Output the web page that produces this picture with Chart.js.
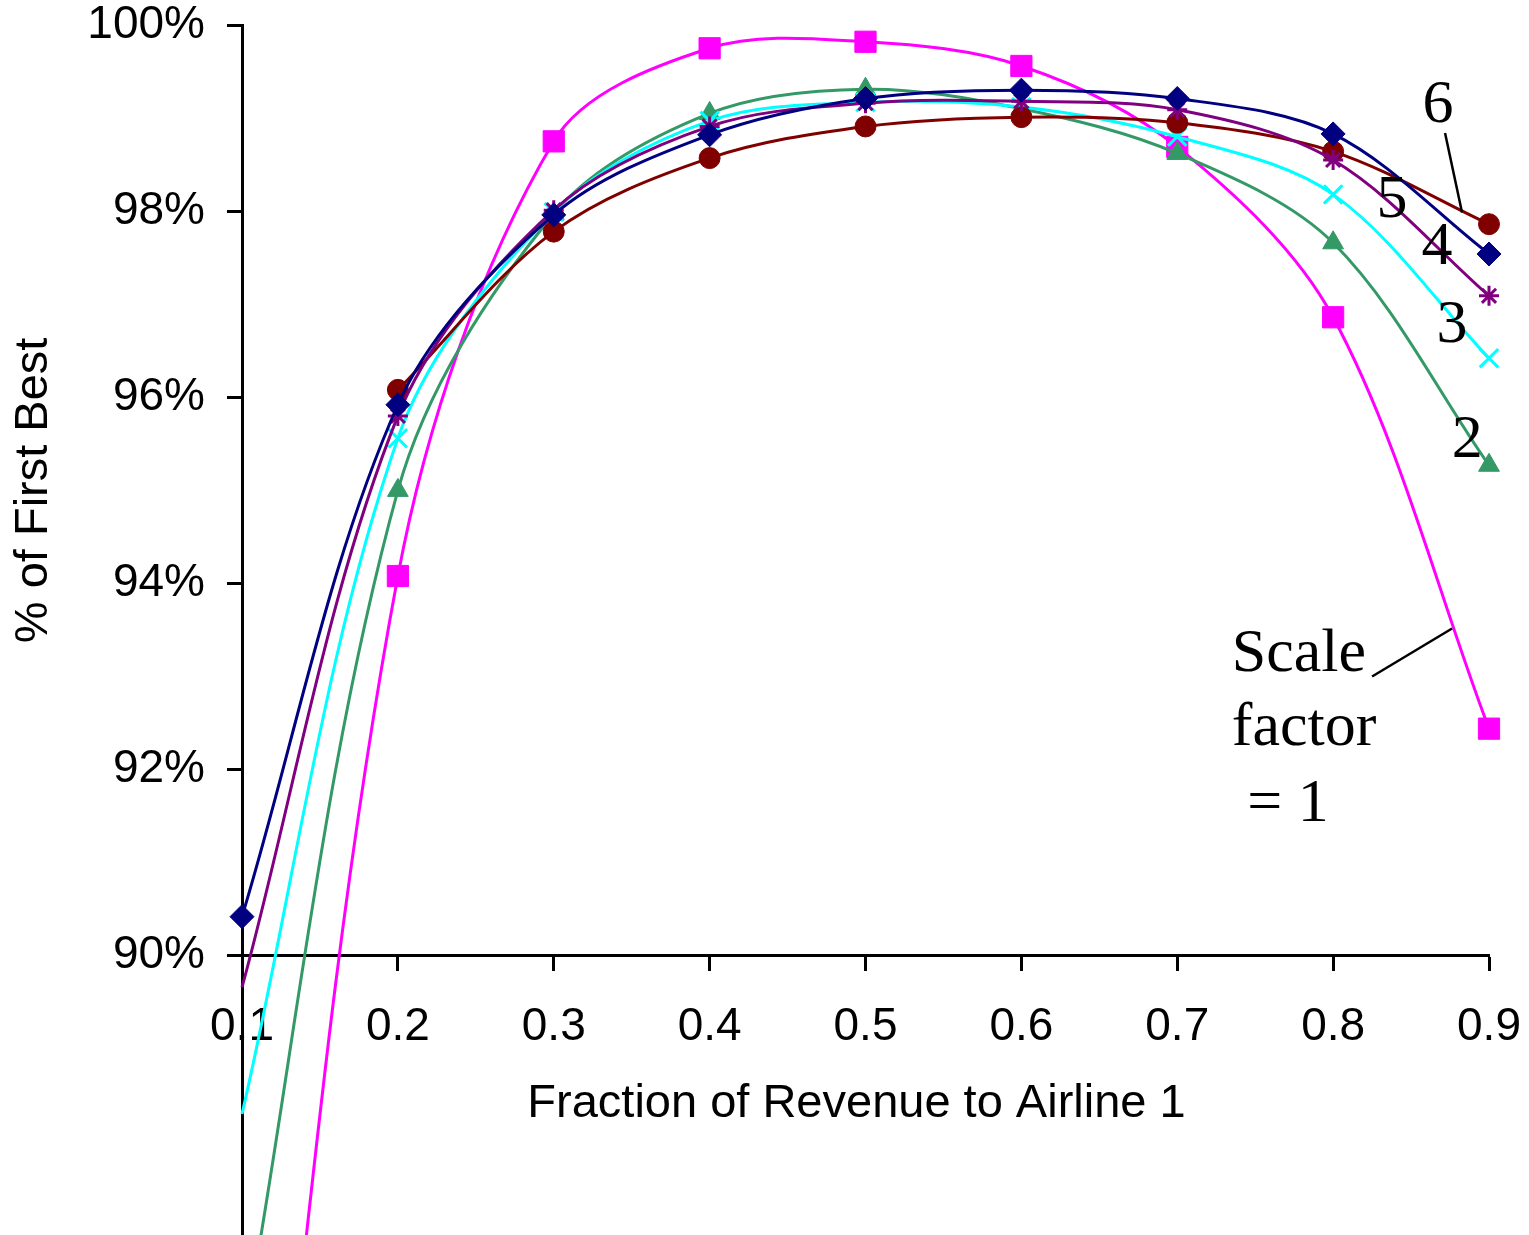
<!DOCTYPE html>
<html><head><meta charset="utf-8">
<script src="https://cdn.jsdelivr.net/npm/chart.js@4.4.1/dist/chart.umd.min.js"></script>
<style>html,body{margin:0;padding:0;background:#fff}canvas{display:block}</style>
</head><body>
<canvas id="c" width="1529" height="1235"></canvas>
<script>
// ---- data ----
const xValues = [0.1, 0.2, 0.3, 0.4, 0.5, 0.6, 0.7, 0.8, 0.9];
const scale1 = [80.8, 94.08, 98.75, 99.75, 99.82, 99.56, 98.69, 96.86, 92.44];
const scale2 = [85.8, 95.0, 97.97, 99.05, 99.31, 99.1, 98.62, 97.66, 95.27];
const scale3 = [88.3, 95.56, 97.99, 98.97, 99.17, 99.12, 98.8, 98.18, 96.42];
const scale4 = [89.66, 95.8, 98.01, 98.91, 99.16, 99.18, 99.09, 98.55, 97.09];
const scale5 = [90.42, 95.92, 97.96, 98.82, 99.21, 99.3, 99.21, 98.83, 97.54];
const scale6 = [null, 96.08, 97.78, 98.57, 98.91, 99.01, 98.95, 98.64, 97.86];
const yTickValues = [90, 92, 94, 96, 98, 100];
const xTitle = 'Fraction of Revenue to Airline 1';
const yTitle = '% of First Best';
// text annotations (data coordinates)
const seriesLabels = [
  {text: '6', x: 0.8673, y: 99.13},
  {text: '5', x: 0.8378, y: 98.11},
  {text: '4', x: 0.8667, y: 97.61},
  {text: '3', x: 0.8763, y: 96.77},
  {text: '2', x: 0.886, y: 95.53}
];
const scaleNote = [
  {text: 'Scale', x: 0.735, y: 93.06},
  {text: 'factor', x: 0.735, y: 92.26},
  {text: ' = 1', x: 0.735, y: 91.45}
];
const leaders = [
  {x1: 0.8718, y1: 98.84, x2: 0.8827, y2: 97.985},
  {x1: 0.825, y1: 93.0, x2: 0.8763, y2: 93.516}
];

const pts = arr => xValues.map((x, i) => ({x: x, y: arr[i]}));
const rad = (r, showFirst) => (c => (c.dataIndex === 0 && !showFirst) ? 0 : r);
const sans = "'Liberation Sans', Arial, sans-serif";
const serif = "'Liberation Serif', 'Times New Roman', serif";

const annotPlugin = {
  id: 'annot',
  afterDatasetsDraw(chart) {
    const {ctx, chartArea, scales: {x, y}} = chart;
    ctx.save();
    ctx.fillStyle = '#000';
    ctx.strokeStyle = '#000';
    ctx.lineWidth = 2.5;
    leaders.forEach(l => {
      ctx.beginPath();
      ctx.moveTo(x.getPixelForValue(l.x1), y.getPixelForValue(l.y1));
      ctx.lineTo(x.getPixelForValue(l.x2), y.getPixelForValue(l.y2));
      ctx.stroke();
    });
    ctx.font = '62px ' + serif;
    ctx.textAlign = 'center';
    ctx.textBaseline = 'middle';
    seriesLabels.forEach(t => ctx.fillText(t.text, x.getPixelForValue(t.x), y.getPixelForValue(t.y)));
    ctx.textAlign = 'left';
    ctx.textBaseline = 'alphabetic';
    scaleNote.forEach(t => ctx.fillText(t.text, x.getPixelForValue(t.x), y.getPixelForValue(t.y)));
    // x axis title, below the tick labels of the axis drawn at 90%
    ctx.font = '47px ' + sans;
    ctx.textAlign = 'center';
    ctx.textBaseline = 'middle';
    ctx.fillText(xTitle, (chartArea.left + chartArea.right) / 2 - 9, y.getPixelForValue(yTickValues[0]) + 148);
    // y axis title, centred on the labelled range
    const yMid = (y.getPixelForValue(yTickValues[0]) + y.getPixelForValue(yTickValues[yTickValues.length - 1])) / 2;
    ctx.translate(34, yMid);
    ctx.rotate(-Math.PI / 2);
    ctx.fillText(yTitle, 0, 0);
    ctx.restore();
  }
};

const common = {borderWidth: 3, tension: 0.33, clip: false, fill: false};
new Chart(document.getElementById('c'), {
  type: 'line',
  data: {
    datasets: [
      Object.assign({label: '5', data: pts(scale5), borderColor: '#000080', backgroundColor: '#000080', pointBorderColor: '#000080', pointStyle: 'rectRot', pointRadius: rad(12, true), pointBorderWidth: 1}, common),
      Object.assign({label: '4', data: pts(scale4), borderColor: '#800080', backgroundColor: '#800080', pointBorderColor: '#800080', pointStyle: 'star', pointRadius: rad(10), pointBorderWidth: 3}, common),
      Object.assign({label: '6', data: pts(scale6), borderColor: '#800000', backgroundColor: '#800000', pointBorderColor: '#800000', pointStyle: 'circle', pointRadius: rad(10.5), pointBorderWidth: 1}, common),
      Object.assign({label: '3', data: pts(scale3), borderColor: '#00FFFF', backgroundColor: '#00FFFF', pointBorderColor: '#00FFFF', pointStyle: 'crossRot', pointRadius: rad(13), pointBorderWidth: 3}, common),
      Object.assign({label: '2', data: pts(scale2), borderColor: '#339966', backgroundColor: '#339966', pointBorderColor: '#339966', pointStyle: 'triangle', pointRadius: rad(12), pointBorderWidth: 1}, common),
      Object.assign({label: '1', data: pts(scale1), borderColor: '#FF00FF', backgroundColor: '#FF00FF', pointBorderColor: '#FF00FF', pointStyle: 'rect', pointRadius: rad(15), pointBorderWidth: 1}, common)
    ]
  },
  options: {
    responsive: false,
    animation: false,
    devicePixelRatio: 1,
    layout: {autoPadding: false, padding: {top: 25, right: 40, bottom: 0, left: 0}},
    elements: {line: {capBezierPoints: false}},
    plugins: {legend: {display: false}, tooltip: {enabled: false}},
    scales: {
      x: {
        type: 'linear', min: 0.1, max: 0.9,
        position: {y: 90},
        afterBuildTicks: s => { s.ticks = xValues.map(v => ({value: v})); },
        afterFit: s => { s.paddingLeft = 0; s.paddingRight = 0; },
        ticks: {callback: v => Number(v).toFixed(1), color: '#000', font: {family: sans, size: 46}, padding: 30, maxRotation: 0, autoSkip: false},
        grid: {drawOnChartArea: false, drawTicks: true, tickLength: 14, tickWidth: 3, tickColor: '#000'},
        border: {display: true, color: '#000', width: 3},
        title: {display: false}
      },
      y: {
        type: 'linear', min: 87, max: 100, position: 'left',
        afterBuildTicks: s => { s.ticks = yTickValues.map(v => ({value: v})); },
        afterFit: s => { s.width = 242; s.paddingTop = 0; s.paddingBottom = 0; },
        ticks: {callback: v => v + '%', color: '#000', font: {family: sans, size: 46}, padding: 22},
        grid: {drawOnChartArea: false, drawTicks: true, tickLength: 15, tickWidth: 3, tickColor: '#000'},
        border: {display: true, color: '#000', width: 3},
        title: {display: false}
      }
    }
  },
  plugins: [annotPlugin]
});
</script>
</body></html>
